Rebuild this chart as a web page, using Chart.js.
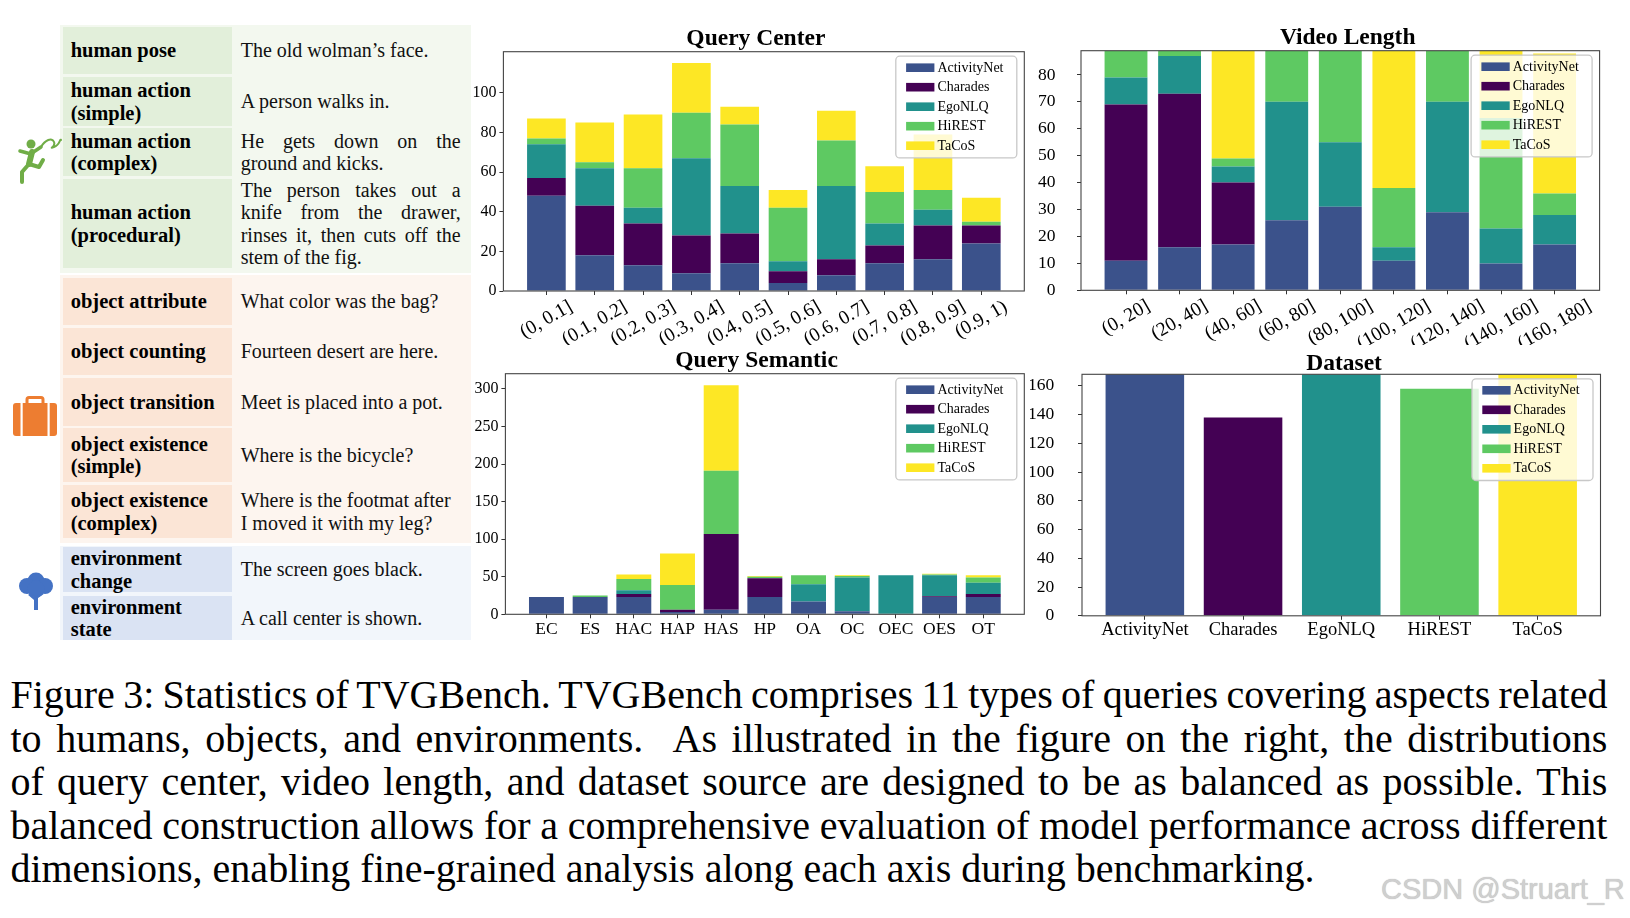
<!DOCTYPE html>
<html>
<head>
<meta charset="utf-8">
<script src="https://cdn.jsdelivr.net/npm/chart.js@4.4.1/dist/chart.umd.min.js"></script>
<style>
html,body{margin:0;padding:0;background:#fff;width:1630px;height:918px;overflow:hidden;}
body{position:relative;font-family:'Liberation Serif','Times New Roman',serif;color:#000;}
.sec{position:absolute;left:60px;width:411px;}
.cell{position:absolute;display:flex;flex-direction:column;justify-content:center;}
.lab{left:63.3px;width:161px;padding-left:7.4px;font-weight:bold;font-size:20.5px;line-height:22.4px;color:#000;}
.desc{left:240.7px;width:220px;font-size:20px;line-height:22.6px;color:#111;}
.j{text-align:justify;text-align-last:justify;}
.nw{white-space:nowrap;}
.g .lab{background:#e2efda;}
.o .lab{background:#fbe5d6;}
.b .lab{background:#dae3f3;}
canvas{position:absolute;}
#caption{position:absolute;left:10.4px;top:673px;width:1597px;font-size:40px;line-height:43.6px;color:#000;}
#caption .jl{text-align:justify;text-align-last:justify;word-spacing:-6px;}
#caption .ll{text-align:left;white-space:nowrap;}
#wm{position:absolute;left:1381px;top:875px;font-family:'Liberation Sans',Arial,sans-serif;font-size:29px;line-height:29px;color:#cfcfcf;white-space:nowrap;text-shadow:0 0 1px #b0b0b0;}
svg{position:absolute;}
</style>
</head>
<body>

<!-- left table -->
<div class="sec" style="top:25px;height:248px;background:#f3f8ef;"></div>
<div class="sec" style="top:275px;height:268px;background:#fdf5ef;"></div>
<div class="sec" style="top:546px;height:94px;background:#f2f6fb;"></div>

<div class="g">
  <div class="cell lab" style="top:26.7px;height:47.6px;">human pose</div>
  <div class="cell desc" style="top:26.7px;height:47.6px;">The old wolman’s face.</div>
  <div class="cell lab" style="top:77.3px;height:48.7px;">human action<br>(simple)</div>
  <div class="cell desc" style="top:77.3px;height:48.7px;">A person walks in.</div>
  <div class="cell lab" style="top:128.3px;height:47.7px;">human action<br>(complex)</div>
  <div class="cell desc" style="top:128.3px;height:47.7px;"><div class="j">He gets down on the</div><div>ground and kicks.</div></div>
  <div class="cell lab" style="top:179.3px;height:89px;">human action<br>(procedural)</div>
  <div class="cell desc" style="top:179.3px;height:89px;"><div class="j">The person takes out a</div><div class="j">knife from the drawer,</div><div class="j">rinses it, then cuts off the</div><div>stem of the fig.</div></div>
</div>
<div class="o">
  <div class="cell lab" style="top:278.3px;height:46.7px;">object attribute</div>
  <div class="cell desc" style="top:278.3px;height:46.7px;">What color was the bag?</div>
  <div class="cell lab" style="top:327.7px;height:47.3px;">object counting</div>
  <div class="cell desc" style="top:327.7px;height:47.3px;">Fourteen desert are here.</div>
  <div class="cell lab" style="top:378.3px;height:47.4px;">object transition</div>
  <div class="cell desc" style="top:378.3px;height:47.4px;">Meet is placed into a pot.</div>
  <div class="cell lab" style="top:428.3px;height:53.4px;">object existence<br>(simple)</div>
  <div class="cell desc" style="top:428.3px;height:53.4px;">Where is the bicycle?</div>
  <div class="cell lab" style="top:485px;height:53.3px;">object existence<br>(complex)</div>
  <div class="cell desc" style="top:485px;height:53.3px;"><div class="nw">Where is the footmat after</div><div>I moved it with my leg?</div></div>
</div>
<div class="b">
  <div class="cell lab" style="top:547.3px;height:44.4px;">environment<br>change</div>
  <div class="cell desc" style="top:547.3px;height:44.4px;">The screen goes black.</div>
  <div class="cell lab" style="top:596px;height:44px;">environment<br>state</div>
  <div class="cell desc" style="top:596px;height:44px;">A call center is shown.</div>
</div>

<!-- icons -->
<svg style="left:12px;top:134px;" width="50" height="50" viewBox="0 0 50 50">
  <g stroke="#70ad47" fill="none" stroke-linecap="round" stroke-linejoin="round">
    <path d="M29 13 C33 6,40 3,42 8 S36 15,42 13 S48 4,49 6" stroke-width="2"/>
    <path d="M20 18 L17 30" stroke-width="6"/>
    <path d="M20 19 L29 13" stroke-width="3.5"/>
    <path d="M19 20 L8 17" stroke-width="3.5"/>
    <path d="M17 30 L10 38 L10 48" stroke-width="4"/>
    <path d="M17 30 L27 33 L31 26" stroke-width="4"/>
  </g>
  <circle cx="19" cy="10" r="4.5" fill="#70ad47"/>
</svg>
<svg style="left:12px;top:396px;" width="46" height="41" viewBox="0 0 46 41">
  <rect x="15" y="1.5" width="16" height="9" rx="2" fill="none" stroke="#ed7d31" stroke-width="3"/>
  <rect x="1" y="7" width="44" height="33" rx="3" fill="#ed7d31"/>
  <rect x="8.5" y="7" width="2.2" height="33" fill="#fff"/>
  <rect x="35.5" y="7" width="2.2" height="33" fill="#fff"/>
</svg>
<svg style="left:15px;top:571px;" width="42" height="40" viewBox="0 0 42 40">
  <g fill="#4472c4">
    <circle cx="21" cy="10" r="8.5"/>
    <circle cx="12" cy="15" r="8"/>
    <circle cx="30" cy="15" r="8"/>
    <circle cx="21" cy="18" r="8.5"/>
    <rect x="19" y="20" width="4" height="19"/>
  </g>
  <path d="M21 29 L14 23 M21 27 L28 22" stroke="#4472c4" stroke-width="2.5" fill="none"/>
</svg>

<!-- charts -->
<canvas id="qc" width="590" height="345" style="left:450px;top:0px;"></canvas>
<canvas id="vl" width="600" height="345" style="left:1030px;top:0px;"></canvas>
<canvas id="qs" width="590" height="320" style="left:450px;top:330px;"></canvas>
<canvas id="ds" width="600" height="320" style="left:1030px;top:330px;"></canvas>

<div id="caption">
<div class="jl">Figure 3: Statistics of TVGBench. TVGBench comprises 11 types of queries covering aspects related</div>
<div class="jl">to humans, objects, and environments. &nbsp;As illustrated in the figure on the right, the distributions</div>
<div class="jl">of query center, video length, and dataset source are designed to be as balanced as possible. This</div>
<div class="jl">balanced construction allows for a comprehensive evaluation of model performance across different</div>
<div class="ll">dimensions, enabling fine-grained analysis along each axis during benchmarking.</div>
</div>
<div id="wm">CSDN @Struart_R</div>

<script>
// ---------------- data ----------------
const DATASETS = ['ActivityNet', 'Charades', 'EgoNLQ', 'HiREST', 'TaCoS'];

const QC_LABELS = ['(0, 0.1]', '(0.1, 0.2]', '(0.2, 0.3]', '(0.3, 0.4]', '(0.4, 0.5]', '(0.5, 0.6]', '(0.6, 0.7]', '(0.7, 0.8]', '(0.8, 0.9]', '(0.9, 1)'];
const QC_ACTIVITYNET = [48, 18, 13, 9, 14, 4, 8, 14, 16, 24];
const QC_CHARADES    = [9, 25, 21, 19, 15, 6, 8, 9, 17, 9];
const QC_EGONLQ      = [17, 19, 8, 39, 24, 5, 37, 11, 8, 0];
const QC_HIREST      = [3, 3, 20, 23, 31, 27, 23, 16, 10, 2];
const QC_TACOS       = [10, 20, 27, 25, 9, 9, 15, 13, 28, 12];
const QC_Y_TICKS = [0, 20, 40, 60, 80, 100];

const VL_LABELS = ['(0, 20]', '(20, 40]', '(40, 60]', '(60, 80]', '(80, 100]', '(100, 120]', '(120, 140]', '(140, 160]', '(160, 180]'];
const VL_ACTIVITYNET = [11, 16, 17, 26, 31, 11, 29, 10, 17];
const VL_CHARADES    = [58, 57, 23, 0, 0, 0, 0, 0, 0];
const VL_EGONLQ      = [10, 14, 6, 44, 24, 5, 41, 13, 11];
const VL_HIREST      = [10, 2, 3, 19, 34, 22, 19, 41, 8];
const VL_TACOS       = [0, 0, 40, 0, 0, 51, 0, 25, 52];
const VL_Y_TICKS = [0, 10, 20, 30, 40, 50, 60, 70, 80];

const QS_LABELS = ['EC', 'ES', 'HAC', 'HAP', 'HAS', 'HP', 'OA', 'OC', 'OEC', 'OES', 'OT'];
const QS_ACTIVITYNET = [23, 23, 23, 3, 6, 23, 17, 4, 0, 23, 23];
const QS_CHARADES    = [0, 0, 4, 3, 101, 25, 0, 0, 0, 1, 4];
const QS_EGONLQ      = [0, 0, 5, 0, 0, 0, 23, 45, 52, 28, 15];
const QS_HIREST      = [0, 2, 15, 33, 84, 2, 12, 2, 0, 1, 7];
const QS_TACOS       = [0, 0, 6, 42, 114, 1, 0, 1, 0, 1, 3];
const QS_Y_TICKS = [0, 50, 100, 150, 200, 250, 300];

const DS_LABELS = DATASETS;
const DS_COUNTS = [168, 138, 168, 158, 168];
const DS_Y_TICKS = [0, 20, 40, 60, 80, 100, 120, 140, 160];

// ---------------- style ----------------
const COLORS = ['#3b528b', '#440154', '#21918c', '#5ec962', '#fde725'];
const FONT = "'Liberation Serif', 'Times New Roman', serif";

const totals = (series) => series[0].map((_, i) => series.reduce((s, a) => s + a[i], 0));

// frame (all four spines)
const framePlugin = {
  id: 'mplFrame',
  afterDatasetsDraw(chart) {
    const { ctx, chartArea: a } = chart;
    ctx.save();
    ctx.strokeStyle = '#444';
    ctx.lineWidth = 1.1;
    ctx.strokeRect(a.left, a.top, a.right - a.left, a.bottom - a.top);
    ctx.restore();
  }
};

// matplotlib-like legend box
const legendPlugin = {
  id: 'mplLegend',
  afterDraw(chart, args, o) {
    const { ctx, chartArea: a } = chart;
    const w = 121, h = 101.7;
    const x0 = a.right - o.insetRight - w, y0 = a.top + o.insetTop;
    ctx.save();
    ctx.beginPath();
    ctx.roundRect(x0, y0, w, h, 4);
    ctx.fillStyle = 'rgba(255,255,255,0.8)';
    ctx.fill();
    ctx.strokeStyle = '#c8c8c8';
    ctx.lineWidth = 1.3;
    ctx.stroke();
    ctx.font = '14px ' + FONT;
    ctx.textAlign = 'left';
    ctx.textBaseline = 'alphabetic';
    chart.data.datasets.forEach((ds, i) => {
      const cy = y0 + 11.5 + i * 19.5;
      ctx.fillStyle = ds.backgroundColor;
      ctx.fillRect(x0 + 10.3, cy - 4.3, 28.3, 8.6);
      ctx.fillStyle = '#000';
      ctx.fillText(ds.label, x0 + 41.6, cy + 4);
    });
    ctx.restore();
  }
};

// title + x tick labels (matplotlib centred rotation)
const textPlugin = {
  id: 'mplText',
  afterDraw(chart, args, o) {
    const { ctx, chartArea: a } = chart;
    const xs = chart.scales.x;
    ctx.save();
    ctx.fillStyle = '#000';
    ctx.font = 'bold 23.5px ' + FONT;
    ctx.textAlign = 'center';
    ctx.textBaseline = 'alphabetic';
    ctx.fillText(o.title, (a.left + a.right) / 2 + o.titleDx, o.titleBaseline);
    ctx.font = o.xSize + 'px ' + FONT;
    ctx.textBaseline = 'middle';
    const th = o.rotation * Math.PI / 180;
    o.labels.forEach((t, i) => {
      const px = xs.getPixelForValue(i);
      const L = ctx.measureText(t).width;
      const H = L * Math.sin(th) + o.xSize * Math.cos(th);
      ctx.save();
      ctx.translate(px, a.bottom + o.xPad + H / 2);
      ctx.rotate(-th);
      ctx.fillText(t, 0, 0);
      ctx.restore();
    });
    ctx.restore();
  }
};

function makeChart(id, c) {
  const n = c.labels.length;
  const m = 0.4 + 0.05 * (n - 0.2);
  return new Chart(document.getElementById(id), {
    type: 'bar',
    data: { datasets: c.datasets },
    plugins: [framePlugin, legendPlugin, textPlugin],
    options: {
      responsive: false,
      animation: false,
      events: [],
      layout: { padding: c.padding },
      datasets: { bar: { barPercentage: 0.8, categoryPercentage: 1.0, borderWidth: 0, clip: 0 } },
      scales: {
        x: {
          type: 'linear', stacked: true, min: -m, max: n - 1 + m, offset: false,
          afterBuildTicks: s => { s.ticks = c.labels.map((_, i) => ({ value: i })); },
          afterFit: s => { s.height = 10; },
          ticks: { display: false },
          grid: { offset: false, drawOnChartArea: false, drawTicks: true, tickLength: 4, color: '#333', lineWidth: 1 },
          border: { display: false }
        },
        y: {
          stacked: true, min: 0, max: c.ymax,
          afterBuildTicks: s => { s.ticks = c.yticks.map(v => ({ value: v })); },
          afterFit: s => { s.width = c.yw; },
          ticks: { color: '#000', font: { family: FONT, size: c.ySize }, padding: c.yPad },
          grid: { drawOnChartArea: false, drawTicks: true, tickLength: 4, color: '#333', lineWidth: 1 },
          border: { display: false }
        }
      },
      plugins: {
        legend: { display: false },
        tooltip: { enabled: false },
        mplLegend: { insetRight: 7.5, insetTop: 4.5 },
        mplText: c.text
      }
    }
  });
}

function stackedSets(series) {
  return series.map((vals, k) => ({
    label: DATASETS[k],
    backgroundColor: COLORS[k],
    data: vals.map((v, i) => ({ x: i, y: v }))
  }));
}

const QC_SERIES = [QC_ACTIVITYNET, QC_CHARADES, QC_EGONLQ, QC_HIREST, QC_TACOS];
const VL_SERIES = [VL_ACTIVITYNET, VL_CHARADES, VL_EGONLQ, VL_HIREST, VL_TACOS];
const QS_SERIES = [QS_ACTIVITYNET, QS_CHARADES, QS_EGONLQ, QS_HIREST, QS_TACOS];

makeChart('qc', {
  labels: QC_LABELS, datasets: stackedSets(QC_SERIES),
  ymax: Math.max(...totals(QC_SERIES)) * 1.05, yticks: QC_Y_TICKS,
  yw: 53.4, ySize: 16, yPad: 3,
  padding: { left: 0, top: 51.7, right: 15.7, bottom: 44 },
  text: { title: 'Query Center', titleDx: -8, titleBaseline: 45, labels: QC_LABELS, rotation: 30, xSize: 19.5, xPad: 6 }
});

makeChart('vl', {
  labels: VL_LABELS, datasets: stackedSets(VL_SERIES),
  ymax: Math.max(...totals(VL_SERIES)), yticks: VL_Y_TICKS,
  yw: 51, ySize: 17.5, yPad: 21.6,
  padding: { left: 0, top: 50.7, right: 30.4, bottom: 44.7 },
  text: { title: 'Video Length', titleDx: 7.4, titleBaseline: 44, labels: VL_LABELS, rotation: 30, xSize: 19.5, xPad: 6 }
});

makeChart('qs', {
  labels: QS_LABELS, datasets: stackedSets(QS_SERIES),
  ymax: Math.max(...totals(QS_SERIES)) * 1.05, yticks: QS_Y_TICKS,
  yw: 55.4, ySize: 16, yPad: 3,
  padding: { left: 0, top: 43.7, right: 15.7, bottom: 25.7 },
  text: { title: 'Query Semantic', titleDx: -8.3, titleBaseline: 37, labels: QS_LABELS, rotation: 0, xSize: 17.5, xPad: 6 }
});

makeChart('ds', {
  labels: DS_LABELS,
  datasets: DS_COUNTS.map((v, k) => ({ label: DATASETS[k], backgroundColor: COLORS[k], data: [{ x: k, y: v }] })),
  ymax: Math.max(...DS_COUNTS), yticks: DS_Y_TICKS,
  yw: 52, ySize: 17.5, yPad: 23.7,
  padding: { left: 0, top: 44.3, right: 29.5, bottom: 24 },
  text: { title: 'Dataset', titleDx: 2.8, titleBaseline: 40, labels: DS_LABELS, rotation: 0, xSize: 18.5, xPad: 5 }
});
</script>
</body>
</html>
